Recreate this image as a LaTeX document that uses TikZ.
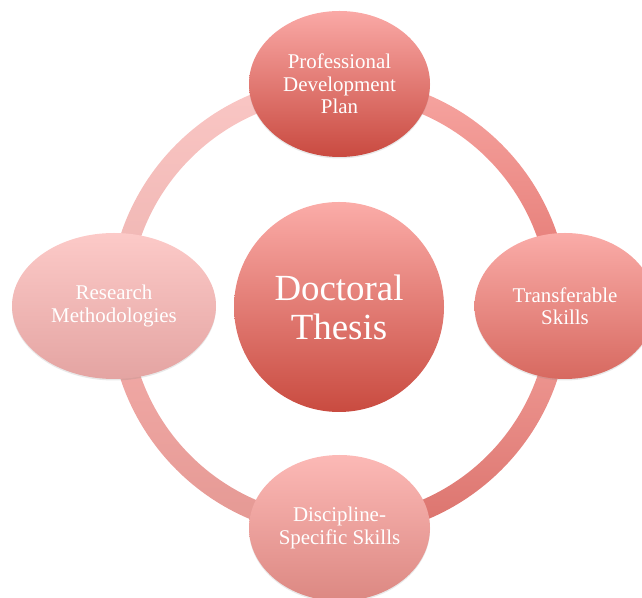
\documentclass[tikz,border=0pt]{standalone}
\usepackage{fontspec}
\setmainfont{Liberation Serif}
\usetikzlibrary{shapes.geometric, shadows}
\definecolor{arcURtop}{HTML}{F7A6A2}
\definecolor{arcURbot}{HTML}{E2746E}
\definecolor{arcULtop}{HTML}{FAC7C5}
\definecolor{arcULbot}{HTML}{EEB3B0}
\definecolor{arcLLtop}{HTML}{F4ADAA}
\definecolor{arcLLbot}{HTML}{E49893}
\definecolor{arcLRtop}{HTML}{F3A19C}
\definecolor{arcLRbot}{HTML}{DB726C}

\begin{document}
\begin{tikzpicture}[x=1bp, y=1bp,
  hub/.style={circle, inner sep=0pt, minimum size=210bp, align=center,
              text=white, font=\fontsize{37}{39}\selectfont},
  topic/.style={ellipse, inner sep=0pt, minimum width=181bp, minimum height=146bp,
                align=center, text=white, font=\fontsize{21}{22.5}\selectfont,
                drop shadow={opacity=0.18, shadow xshift=0bp, shadow yshift=-1.5bp}},
]
\useasboundingbox (0,0) rectangle (642,598);

\coordinate (mid) at (339, 291);

% ring behind the four topics, one shaded quarter at a time
\foreach \a/\tc/\bc in {0/arcURtop/arcURbot, 90/arcULtop/arcULbot,
                        180/arcLLtop/arcLLbot, 270/arcLRtop/arcLRbot}
  \shade[top color=\tc, bottom color=\bc]
    (mid) ++(\a:210) arc[start angle=\a, end angle=\a+90, radius=210]
    -- ++(\a+90:20) arc[start angle=\a+90, end angle=\a, radius=230] -- cycle;

\node[hub, top color={rgb,255:red,251;green,172;blue,168},
      bottom color={rgb,255:red,201;green,75;blue,64}] (thesis) at (mid) {Doctoral\\Thesis};

\node[topic, top color={rgb,255:red,250;green,169;blue,166},
      bottom color={rgb,255:red,201;green,74;blue,64}] (pdp) at (339.5, 514)
  {Professional\\Development\\Plan};
\node[topic, minimum width=204bp, top color={rgb,255:red,252;green,202;blue,200},
      bottom color={rgb,255:red,228;green,164;blue,162}] (research) at (114, 292)
  {Research\\Methodologies};
\node[topic, top color={rgb,255:red,250;green,172;blue,168},
      bottom color={rgb,255:red,215;green,105;blue,96}] (transfer) at (565, 292)
  {Transferable\\Skills};
\node[topic, top color={rgb,255:red,252;green,185;blue,182},
      bottom color={rgb,255:red,220;green,136;blue,130}] (discipline) at (339.5, 70)
  {Discipline-\\Specific Skills};

\end{tikzpicture}
\end{document}
